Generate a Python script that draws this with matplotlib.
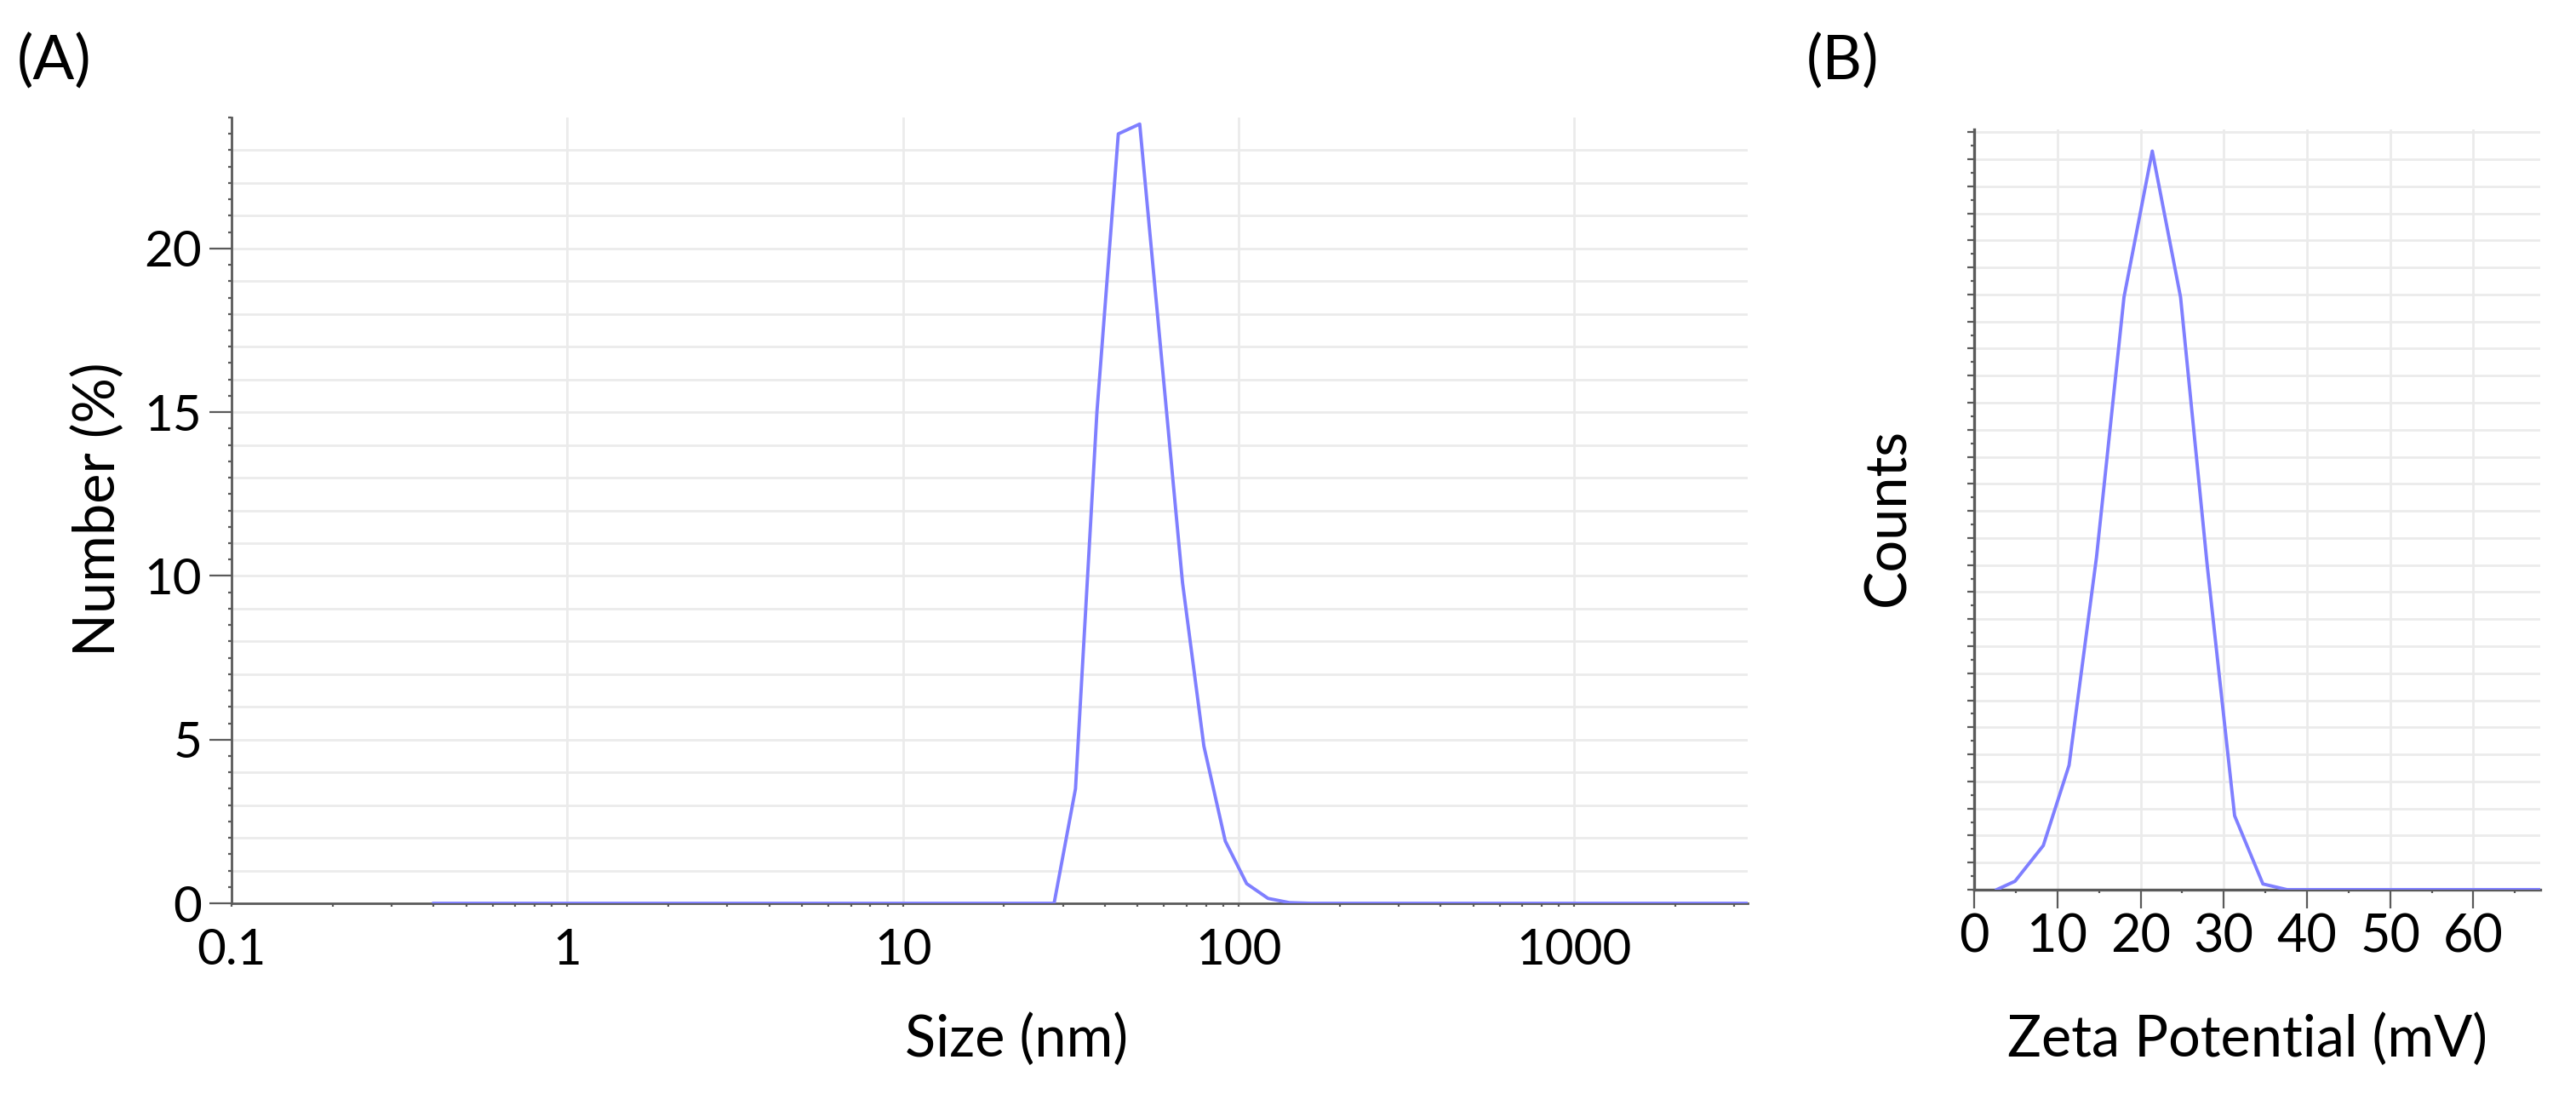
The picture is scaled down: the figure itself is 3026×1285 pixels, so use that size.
import numpy as np
import matplotlib
matplotlib.use("Agg")
import matplotlib.pyplot as plt
from matplotlib.ticker import MultipleLocator, LogLocator, NullFormatter, FixedLocator

plt.rcParams['font.family'] = ['Lato', 'DejaVu Sans']

# (A) size distribution by number (Malvern size bins, nm)
size_nm = [0.4, 0.4632, 0.5365, 0.6213, 0.7195, 0.8332, 0.9649, 1.117, 1.294, 1.499,
           1.736, 2.01, 2.328, 2.696, 3.122, 3.615, 4.187, 4.849, 5.615, 6.503,
           7.531, 8.721, 10.1, 11.7, 13.54, 15.69, 18.17, 21.04, 24.36, 28.21,
           32.67, 37.84, 43.82, 50.75, 58.77, 68.06, 78.82, 91.28, 105.7, 122.4,
           141.8, 164.2, 190.1, 220.2, 255.0, 295.3, 342.0, 396.1, 458.7, 531.2,
           615.1, 712.4, 825.0, 955.4, 1106, 1281, 1484, 1718, 1990, 2305,
           2669, 3091, 3580]
number_pct = [0, 0, 0, 0, 0, 0, 0, 0, 0, 0,
              0, 0, 0, 0, 0, 0, 0, 0, 0, 0,
              0, 0, 0, 0, 0, 0, 0, 0, 0, 0,
              3.5, 15.0, 23.5, 23.8, 16.8, 9.8, 4.8, 1.9, 0.6, 0.15,
              0.02, 0, 0, 0, 0, 0, 0, 0, 0, 0,
              0, 0, 0, 0, 0, 0, 0, 0, 0, 0,
              0, 0, 0]

# (B) zeta potential distribution
zeta_mv = [2.7, 4.9, 8.3, 11.4, 14.7, 18.0, 21.4, 24.8, 28.0, 31.3, 34.7, 37.6,
           41.0, 44.4, 47.8, 51.2, 54.6, 58.0, 61.4, 64.8, 68.2]
counts = [0, 3100, 16300, 46000, 123000, 219000, 273000, 219000, 120000, 27300, 2100, 0,
          0, 0, 0, 0, 0, 0, 0, 0, 0]

size_ticks = [0.1, 1, 10, 100, 1000]
size_ticklabels = ['0.1', '1', '10', '100', '1000']
zeta_ticks = [0, 10, 20, 30, 40, 50, 60]

line_col = '#7f7fff'
grid_col = '#ebebeb'
axis_col = '#5a5a5a'

fig = plt.figure(figsize=(15.13, 6.425), dpi=200)

# ---------- panel A ----------
axA = fig.add_axes([0.0899, 0.1743, 0.5886, 0.7183])
axA.plot(size_nm, number_pct, color=line_col, lw=1.4, zorder=4)
axA.set_xscale('log')
axA.set_xlim(0.1, 3289)
axA.set_ylim(0, 24)
axA.xaxis.set_major_locator(FixedLocator(size_ticks))
axA.set_xticklabels(size_ticklabels)
axA.xaxis.set_minor_locator(LogLocator(base=10, subs=np.arange(2, 10)))
axA.xaxis.set_minor_formatter(NullFormatter())
axA.yaxis.set_major_locator(MultipleLocator(5))
axA.yaxis.set_minor_locator(MultipleLocator(0.5))
axA.grid(True, axis='x', which='major', color=grid_col, lw=1.0, zorder=0)
axA.hlines(np.arange(1, 24), 0, 1, transform=axA.get_yaxis_transform(),
           colors=grid_col, lw=1.0, zorder=0)
axA.tick_params(axis='y', which='major', length=9.5, width=0.8, color=axis_col,
                labelsize=21, pad=3)
axA.tick_params(axis='y', which='minor', length=1.5, width=0.8, color=axis_col)
axA.tick_params(axis='x', which='both', length=1.5, width=0.8, color=axis_col,
                labelsize=21, pad=9)
for s in ['top', 'right']:
    axA.spines[s].set_visible(False)
for s in ['left', 'bottom']:
    axA.spines[s].set_color(axis_col)
    axA.spines[s].set_linewidth(1.0)

# ---------- panel B ----------
axB = fig.add_axes([0.7664, 0.1868, 0.2196, 0.6949])
axB.plot(zeta_mv, counts, color=line_col, lw=1.4, zorder=4)
axB.set_xlim(0, 68)
axB.set_ylim(0, 281000)
axB.xaxis.set_major_locator(FixedLocator(zeta_ticks))
axB.xaxis.set_minor_locator(MultipleLocator(5))
axB.yaxis.set_major_locator(MultipleLocator(10000))
axB.yaxis.set_minor_locator(MultipleLocator(5000))
axB.set_yticklabels([])
axB.grid(True, which='major', color=grid_col, lw=1.0, zorder=0)
axB.tick_params(axis='y', which='major', length=3, width=0.8, color=axis_col)
axB.tick_params(axis='y', which='minor', length=1.5, width=0.8, color=axis_col)
axB.tick_params(axis='x', which='major', length=8, width=0.8, color=axis_col,
                labelsize=22, pad=2)
axB.tick_params(axis='x', which='minor', length=1.5, width=0.8, color=axis_col)
for s in ['top', 'right']:
    axB.spines[s].set_visible(False)
for s in ['left', 'bottom']:
    axB.spines[s].set_color(axis_col)
    axB.spines[s].set_linewidth(1.2)

# ---------- labels ----------
W, H = 3026, 1285
fig.text(116 / W, 1 - 598 / H, 'Number (%)', rotation=90, ha='center', va='center', fontsize=24)
fig.text(1194 / W, 1 - 1222 / H, 'Size (nm)', ha='center', va='center', fontsize=24)
fig.text(2218 / W, 1 - 607 / H, 'Counts', rotation=90, ha='center', va='center', fontsize=24)
fig.text(2640 / W, 1 - 1222 / H, 'Zeta Potential (mV)', ha='center', va='center', fontsize=24)
fig.text(20 / W, 1 - 72 / H, '(A)', ha='left', va='center', fontsize=26)
fig.text(2122 / W, 1 - 72 / H, '(B)', ha='left', va='center', fontsize=26)

fig.savefig('out.png', dpi=200, facecolor='white')
